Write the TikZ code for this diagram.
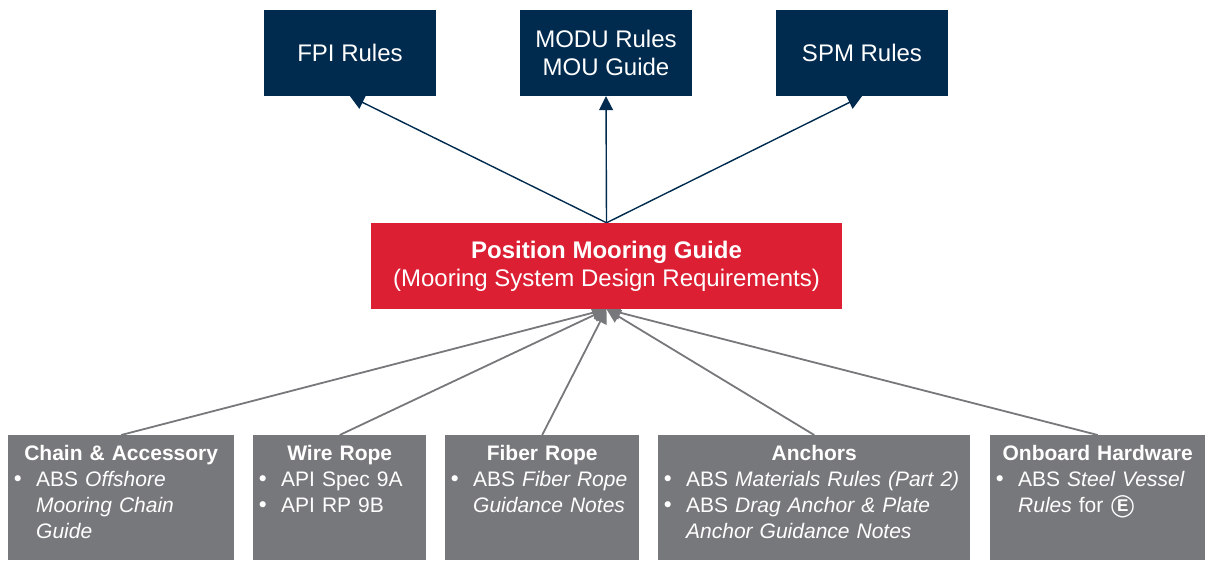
\documentclass[tikz,border=0pt]{standalone}
\usepackage{fontspec}
\setmainfont{Liberation Sans}
\newfontfamily\symfont{DejaVu Sans}
\usetikzlibrary{backgrounds}
\usetikzlibrary{arrows.meta}
\definecolor{navy}{HTML}{002B4E}
\definecolor{absred}{HTML}{DC1F33}
\definecolor{slate}{HTML}{77787B}
\tikzset{%
  toparrow/.style = {-{Triangle[length=14pt,width=14pt]},navy,line width=1.4pt},
  lowarrow/.style = {-{Triangle[length=14pt,width=14pt]},slate,line width=1.8pt},
  navybox/.style = {rectangle,fill=navy,text=white,align=center,inner sep=0pt,
        minimum width=172pt,minimum height=86pt,font=\fontsize{24}{28}\selectfont},
  redbox/.style = {rectangle,fill=absred,text=white,align=center,inner sep=0pt,
        minimum width=471pt,minimum height=86pt,font=\fontsize{24}{28}\selectfont},
  slatebox/.style = {rectangle,fill=slate,text=white,anchor=north west,inner xsep=6pt,
        inner ysep=6pt,minimum height=125pt,font=\fontsize{21}{26}\selectfont}
}
\newcommand{\boxhead}[1]{\hbox to \hsize{\hss\bfseries #1\hss}}
\newcommand{\boxitem}[1]{\par\hangindent=22pt\hangafter=1\noindent\hbox to 22pt{\hskip-2.5pt{\symfont\textbullet}\hss}#1\par}
\newcommand{\boxtext}[2]{\vbox to 113pt{\parindent=0pt\vskip4pt\boxhead{#1}#2\vfil}}
\newcommand{\nl}{\hfil\break}
\newcommand{\circE}{\ooalign{\hfil\raisebox{1pt}{\fontsize{17}{17}\selectfont\bfseries E}\hfil\cr
  {\symfont\bfseries\fontsize{22}{22}\selectfont\char"25EF}\cr}}

\begin{document}
\begin{tikzpicture}[x=1pt,y=-1pt]
  \useasboundingbox (0,0) rectangle (1209,560);
  \node[navybox] (fpi) at (350,53) {FPI Rules};
  \node[navybox] (modu) at (606,53) {MODU Rules\\MOU Guide};
  \node[navybox] (spm) at (862,53) {SPM Rules};
  \node[redbox] (guide) at (606.5,266) {\textbf{Position Mooring Guide}\\(Mooring System Design Requirements)};
  \node[slatebox,text width=214pt] (chain) at (8,435) {\boxtext{Chain \& Accessory}{%
    \boxitem{ABS \textit{Offshore}\nl\textit{Mooring Chain}\nl\textit{Guide}}}};
  \node[slatebox,text width=161pt] (wire) at (253,435) {\boxtext{Wire Rope}{%
    \boxitem{API Spec 9A}\boxitem{API RP 9B}}};
  \node[slatebox,text width=182pt] (fiber) at (445,435) {\boxtext{Fiber Rope}{%
    \boxitem{ABS \textit{Fiber Rope}\nl\textit{Guidance Notes}}}};
  \node[slatebox,text width=300pt] (anchors) at (658,435) {\boxtext{Anchors}{%
    \boxitem{ABS \textit{Materials Rules (Part 2)}}%
    \boxitem{ABS \textit{Drag Anchor \& Plate}\nl\textit{Anchor Guidance Notes}}}};
  \node[slatebox,text width=203pt] (onboard) at (990,435) {\boxtext{Onboard Hardware}{%
    \boxitem{ABS \textit{Steel Vessel}\nl\textit{Rules} for \circE}}};
  \begin{scope}[on background layer]
    \draw[toparrow] (guide.north) -- (fpi.south);
    \draw[toparrow] (guide.north) -- (modu.south);
    \draw[toparrow] (guide.north) -- (spm.south);
    \draw[lowarrow] (chain.north) -- (guide.south);
    \draw[lowarrow] (wire.north) -- (guide.south);
    \draw[lowarrow] (fiber.north) -- (guide.south);
    \draw[lowarrow] (anchors.north) -- (guide.south);
    \draw[lowarrow] (onboard.north) -- (guide.south);
  \end{scope}
\end{tikzpicture}
\end{document}
